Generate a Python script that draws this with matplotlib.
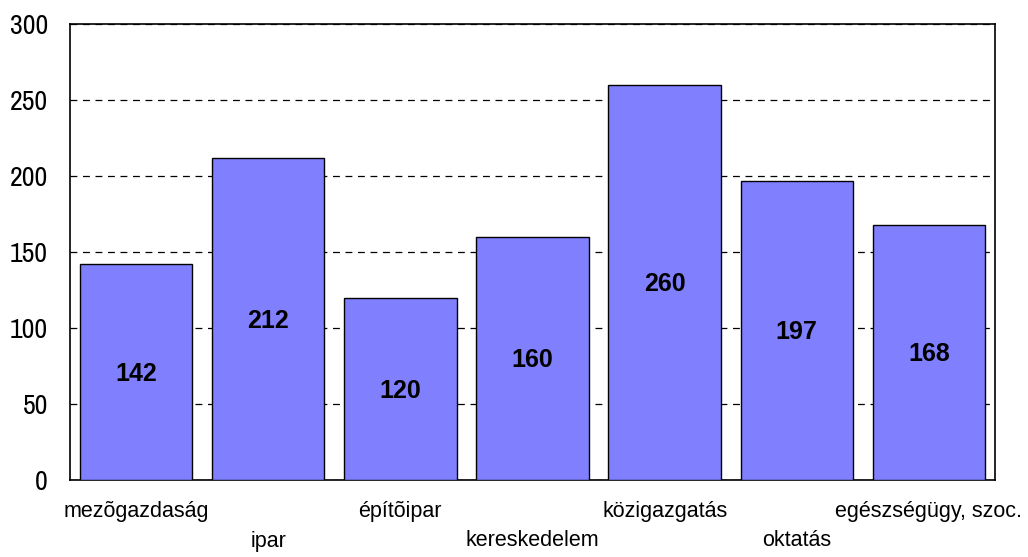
import matplotlib
matplotlib.use("Agg")
import matplotlib.pyplot as plt
from matplotlib import font_manager

# ============================== data =========================================

categories = ["mezõgazdaság", "ipar", "építõipar", "kereskedelem",
              "közigazgatás", "oktatás", "egészségügy, szoc."]
values = [142, 212, 120, 160, 260, 197, 168]
y_ticks = [0, 50, 100, 150, 200, 250, 300]

# ============================== style ========================================

plt.rcParams["font.family"] = ["Liberation Sans", "DejaVu Sans"]

# regular-weight narrow face for the y tick labels, if there is one
narrow_file = None
for f in font_manager.fontManager.ttflist:
    if "Narrow" in f.name and f.weight in (400, "normal", "regular") \
            and f.style == "normal":
        narrow_file = f.fname
        break
if narrow_file:
    tick_font = font_manager.FontProperties(fname=narrow_file, size=20)
else:
    tick_font = font_manager.FontProperties(family="Liberation Sans", size=17)

value_font = font_manager.FontProperties(family="Liberation Sans",
                                         weight="bold", size=18)

BAR_COLOR = "#8080ff"

# ============================== main =========================================

fig = plt.figure(figsize=(10.28, 5.57), dpi=100)
ax = fig.add_axes([70 / 1028, 1 - 480 / 557, 925 / 1028, 456 / 557])

x = list(range(len(categories)))
ax.bar(x, values, width=0.85, color=BAR_COLOR, edgecolor="black",
       linewidth=1.0, zorder=3)

for xi, v in zip(x, values):
    ax.annotate(str(v), xy=(xi, v / 2), xycoords="data",
                xytext=(0, -2), textcoords="offset pixels",
                ha="center", va="center", fontproperties=value_font,
                zorder=4)

ax.set_xlim(-0.5, len(categories) - 0.5)
ax.set_ylim(0, 300)
ax.set_yticks(y_ticks)
ax.set_yticklabels([str(t) for t in y_ticks], fontproperties=tick_font)
ax.tick_params(axis="y", length=0, pad=16)

ax.set_xticks(x)
ax.set_xticklabels([])
ax.tick_params(axis="x", length=0)
for xi, name in zip(x, categories):
    offset = 32 if xi % 2 == 0 else 61
    ax.annotate(name, xy=(xi, 0), xycoords="data",
                xytext=(0, -offset), textcoords="offset pixels",
                ha="center", va="center", fontsize=15.5)

ax.yaxis.grid(True, color="black", linestyle=(0, (5.5, 4.5)),
              linewidth=0.9, zorder=0)
for s in ax.spines.values():
    s.set_linewidth(1.2)

plt.savefig("out.png", dpi=100)
